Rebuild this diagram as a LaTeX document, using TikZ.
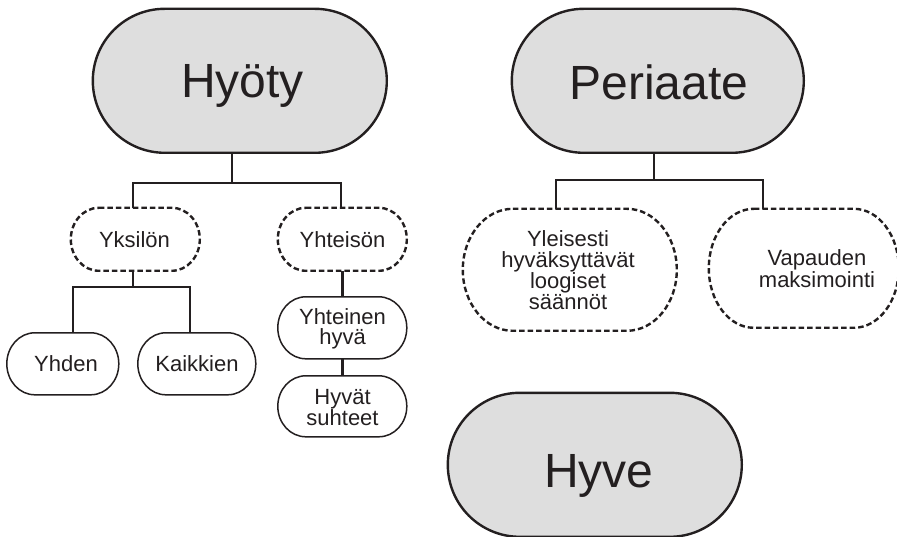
\documentclass[tikz,border=0pt]{standalone}
\usepackage{fontspec}
\setmainfont{Liberation Sans}
\definecolor{boxgray}{RGB}{222,222,222}
\definecolor{ink}{RGB}{35,31,32}
\newcommand\mycaps[5]{% #1 style, #2 node, #3 straight length, #4 half height, #5 rx
  \draw[#1] (#2.north west) ++(#5,0) -- ++(#3,0)
    arc[start angle=90,end angle=-90,x radius=#5pt,y radius=#4pt]
    -- ++(-#3,0)
    arc[start angle=270,end angle=90,x radius=#5pt,y radius=#4pt] -- cycle;}
\tikzset{
  holder/.style={inner sep=0pt},
  bigtxt/.style={inner sep=0pt, text=ink, anchor=base, font=\fontsize{48}{50}\selectfont},
  smalltxt/.style={inner sep=0pt, text=ink, align=center, font=\fontsize{22}{20.5}\selectfont},
  bigline/.style={draw=ink, fill=boxgray, line width=2.4pt},
  solidline/.style={draw=ink, line width=1.5pt},
  dashline/.style={draw=ink, line width=2.4pt, dash pattern=on 5.5pt off 3pt},
  conn/.style={draw=ink, line width=2.2pt},
}
\begin{document}
\begin{tikzpicture}[x=1pt,y=1pt]
\useasboundingbox (0,0) rectangle (897,536);
\clip (0,0) rectangle (897,536);
% big nodes (shape holders)
\node[holder, minimum width=294pt, minimum height=144pt] (hyoty) at (240,455) {};
\node[holder, minimum width=292pt, minimum height=144pt] (periaate) at (658,455) {};
\node[holder, minimum width=294pt, minimum height=144pt] (hyve) at (595,71) {};
\mycaps{bigline}{hyoty}{150}{72}{72}
\mycaps{bigline}{periaate}{148}{72}{72}
\mycaps{bigline}{hyve}{150}{72}{72}
\node[bigtxt] (hyotytext) at (242.5,438) {Hyöty};
\node[bigtxt] (periaatetext) at (659,436) {Periaate};
\node[bigtxt] (hyvetext) at (599,49) {Hyve};
% small nodes
\node[holder, minimum width=129pt, minimum height=63pt] (yksilon) at (135.5,296.5) {};
\node[holder, minimum width=129pt, minimum height=63pt] (yhteison) at (342.5,296.5) {};
\node[holder, minimum width=112pt, minimum height=62pt] (yhden) at (63,172) {};
\node[holder, minimum width=118pt, minimum height=62pt] (kaikkien) at (197,172) {};
\node[holder, minimum width=129pt, minimum height=62pt] (yhteinen) at (342.5,208) {};
\node[holder, minimum width=129pt, minimum height=61pt] (hyvat) at (342.5,129.5) {};
\node[holder, minimum width=214pt, minimum height=122pt] (yleisesti) at (570,266) {};
\node[holder, minimum width=190pt, minimum height=119pt] (vapauden) at (804,267.5) {};
\mycaps{dashline}{yksilon}{73}{31.5}{28}
\mycaps{dashline}{yhteison}{73}{31.5}{28}
\mycaps{solidline}{yhden}{56}{31}{28}
\mycaps{solidline}{kaikkien}{62}{31}{28}
\mycaps{solidline}{yhteinen}{73}{31}{28}
\mycaps{solidline}{hyvat}{73}{30.5}{28}
\mycaps{dashline}{yleisesti}{114}{61}{50}
\mycaps{dashline}{vapauden}{100}{59.5}{45}
\node[smalltxt] (yksilontext) at (134.5,296.5) {Yksilön};
\node[smalltxt] (yhteisontext) at (yhteison) {Yhteisön};
\node[smalltxt] (yhdentext) at (66,172) {Yhden};
\node[smalltxt] (kaikkientext) at (kaikkien) {Kaikkien};
\node[smalltxt] (yhteinentext) at (342.5,207) {Yhteinen\\hyvä};
\node[smalltxt] (hyvattext) at (342.5,128.5) {Hyvät\\suhteet};
\node[smalltxt] (yleisestitext) at (568,266) {Yleisesti\\hyväksyttävät\\loogiset\\säännöt};
\node[smalltxt] (vaptext) at (817,267.5) {Vapauden\\maksimointi};
% junctions
\coordinate (h0) at (232,353);
\coordinate (hl) at (133,353);
\coordinate (hr) at (341,353);
\coordinate (y0) at (133,249);
\coordinate (yl) at (73,249);
\coordinate (yr) at (190,249);
\coordinate (p0) at (654,356);
\coordinate (pl) at (556,356);
\coordinate (pr) at (763,356);
% connectors
\draw[conn] (h0 |- hyoty.south) -- (h0);
\draw[conn] (hl |- yksilon.north) -- (hl) -- (hr) -- (hr |- yhteison.north);
\draw[conn] (y0 |- yksilon.south) -- (y0);
\draw[conn] (yl |- yhden.north) -- (yl) -- (yr) -- (yr |- kaikkien.north);
\draw[conn] (yhteison.south) -- (yhteinen.north);
\draw[conn] (yhteinen.south) -- (hyvat.north);
\draw[conn] (p0 |- periaate.south) -- (p0);
\draw[conn] (pl |- yleisesti.north) -- (pl) -- (pr) -- (pr |- vapauden.north);
\end{tikzpicture}
\end{document}
